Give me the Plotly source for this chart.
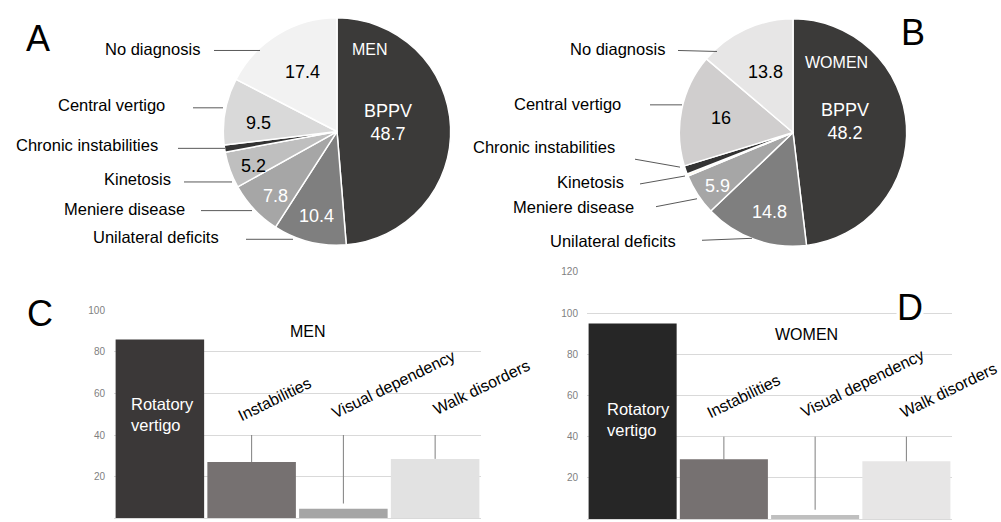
import plotly.graph_objects as go

W, H = 1001, 522
FONT = "Liberation Sans, Arial, sans-serif"

# ---------------- data ----------------
pie_labels = ["BPPV", "Unilateral deficits", "Meniere disease", "Kinetosis",
              "Chronic instabilities", "Central vertigo", "No diagnosis"]
men_pct = [48.7, 10.4, 7.8, 5.2, 1.0, 9.5, 17.4]
women_pct = [48.2, 14.8, 5.9, 0.3, 1.2, 16.0, 13.8]

symptoms = ["Rotatory vertigo", "Instabilities", "Visual dependency", "Walk disorders"]
men_sym = [86, 27, 4.5, 28.5]
women_sym = [95, 29, 2, 28]

men_ticks = [0, 20, 40, 60, 80, 100]
women_ticks = [0, 20, 40, 60, 80, 100, 120]

# ---------------- styles ----------------
men_colors = ["#3b3a39", "#7f7f7f", "#a6a6a6", "#bfbfbf", "#333333", "#d9d9d9", "#f2f2f2"]
women_colors = ["#3b3a39", "#7f7f7f", "#a6a6a6", "#fff2cc", "#333333", "#d0cece", "#e7e6e6"]
men_bar_colors = ["#3b3838", "#767171", "#a5a5a5", "#e2e2e2"]
women_bar_colors = ["#262626", "#767171", "#bfbfbf", "#e7e6e6"]


def px(x, y):
    return x / W, 1 - y / H


def pie_domain(cx, cy, r):
    return dict(x=[(cx - r) / W, (cx + r) / W], y=[1 - (cy + r) / H, 1 - (cy - r) / H])


fig = go.Figure()

pies = [
    dict(vals=men_pct, colors=men_colors, c=(337, 127), r=115),
    dict(vals=women_pct, colors=women_colors, c=(793, 128), r=115),
]
for p in pies:
    fig.add_trace(go.Pie(
        values=p["vals"], labels=pie_labels, sort=False, direction="clockwise",
        rotation=0, textinfo="none", hoverinfo="label+value", showlegend=False,
        marker=dict(colors=p["colors"], line=dict(color="white", width=1.5)),
        domain=pie_domain(p["c"][0], p["c"][1], p["r"]),
    ))

fig.add_trace(go.Bar(x=symptoms, y=men_sym, marker=dict(color=men_bar_colors, line=dict(width=0)),
                     xaxis="x", yaxis="y", showlegend=False))
fig.add_trace(go.Bar(x=symptoms, y=women_sym, marker=dict(color=women_bar_colors, line=dict(width=0)),
                     xaxis="x2", yaxis="y2", showlegend=False))

annotations = []
shapes = []


def add_text(text, x, y, size, color="black", xanchor="center", align="center", angle=0, **kw):
    ax, ay = px(x, y)
    annotations.append(dict(text=text, x=ax, y=ay, xref="paper", yref="paper", showarrow=False,
                            xanchor=xanchor, yanchor="middle", align=align, textangle=angle,
                            font=dict(family=FONT, size=size, color=color), **kw))


def add_line(x0, y0, x1, y1, color="#595959"):
    a0, b0 = px(x0, y0)
    a1, b1 = px(x1, y1)
    shapes.append(dict(type="line", xref="paper", yref="paper", x0=a0, y0=b0, x1=a1, y1=b1,
                       line=dict(color=color, width=1)))


def fmt(v):
    return f"{v:g}"


# ---- pie inner texts (index -> position, color) ----
men_inner = {0: (388, 118, "white"), 1: (316, 212, "white"), 2: (275, 192, "white"),
             3: (253, 162, "black"), 5: (258, 118, "black"), 6: (302, 67, "black")}
women_inner = {0: (845, 117, "white"), 1: (769, 208, "white"), 2: (717, 182, "white"),
               5: (721, 113, "black"), 6: (765, 67, "black")}
for vals, inner in [(men_pct, men_inner), (women_pct, women_inner)]:
    for i, (x, y, col) in inner.items():
        t = fmt(vals[i])
        if i == 0:
            t = pie_labels[0] + "<br>" + t
        add_text(t, x, y, 18, col)

add_text("MEN", 350, 44, 16, "white", xanchor="left")
add_text("WOMEN", 803, 57, 16, "white", xanchor="left")

# ---- pie outer labels with leader lines (index -> text right edge, y, line) ----
men_outer = {6: (202, 43, (214, 45, 260, 45)), 5: (167, 100, (193, 103, 223, 103)),
             4: (160, 141, (178, 144, 225, 144)), 3: (173, 175, (184, 178, 232, 178)),
             2: (187, 205, (201, 207, 252, 207)), 1: (221, 234, (246, 236, 293, 236))}
women_outer = {6: (667, 43, (678, 45, 717, 46)), 5: (623, 99, (650, 100, 682, 100)),
               4: (617, 143, (635, 155, 680, 163)), 3: (626, 178, (640, 180, 685, 172)),
               2: (636, 203, (656, 203, 697, 195)), 1: (678, 238, (702, 237, 752, 235))}
for outer in (men_outer, women_outer):
    for i, (xr, y, ln) in outer.items():
        add_text(pie_labels[i], xr, y, 16.5, "black", xanchor="right")
        add_line(*ln)

# ---- panel letters ----
add_text("A", 38, 33, 36)
add_text("B", 913, 27, 36)
add_text("C", 40, 311, 36)
add_text("D", 910, 305, 36, bgcolor="white", borderpad=0)

# ---- bar chart texts ----
add_text("MEN", 308, 329, 16)
add_text("WOMEN", 806, 332, 16)
add_text(symptoms[0].replace(" ", "<br>"), 129, 413, 16.5, "white", xanchor="left", align="left")
add_text(symptoms[0].replace(" ", "<br>"), 605, 418, 16.5, "white", xanchor="left", align="left")

men_rot = {1: (274, 398), 2: (393, 383), 3: (481, 386)}
women_rot = {1: (743, 395), 2: (862, 382), 3: (948, 389)}
for rot in (men_rot, women_rot):
    for i, (x, y) in rot.items():
        add_text(symptoms[i], x, y, 16, angle=-26)

# bar leader lines (data coords)
gaps = [0, 0, 2.5, 0]
for xr, yr, vals in [("x", "y", men_sym), ("x2", "y2", women_sym)]:
    for i in (1, 2, 3):
        shapes.append(dict(type="line", xref=xr, yref=yr, x0=symptoms[i], x1=symptoms[i],
                           y0=vals[i] + gaps[i], y1=40, line=dict(color="#7f7f7f", width=1)))

axis_common = dict(showgrid=True, gridcolor="#d9d9d9", gridwidth=1, zeroline=True,
                   zerolinecolor="#d9d9d9", zerolinewidth=1, showline=False, ticks="",
                   tickfont=dict(family=FONT, size=10, color="#7f7f7f"), ticklabelstandoff=8)
xaxis_common = dict(showticklabels=False, showgrid=False, zeroline=False, showline=False,
                    ticks="", type="category")

fig.update_layout(
    width=W, height=H, margin=dict(l=0, r=0, t=0, b=0),
    paper_bgcolor="white", plot_bgcolor="white",
    font=dict(family=FONT),
    bargap=0.035,
    xaxis=dict(domain=[114 / W, 481 / W], anchor="y", **xaxis_common),
    yaxis=dict(domain=[1 - 518 / H, 1 - 308 / H], range=[0, 100], tickvals=men_ticks,
               anchor="x", **axis_common),
    xaxis2=dict(domain=[587 / W, 952 / W], anchor="y2", **xaxis_common),
    yaxis2=dict(domain=[1 - 519 / H, 1 - 269 / H], range=[0, 120], tickvals=women_ticks,
                anchor="x2", **axis_common),
    annotations=annotations,
    shapes=shapes,
)

fig.write_html("out.html", config={"displayModeBar": False},
               post_script="document.body.style.margin='0px';"
                           "document.documentElement.style.overflow='hidden';"
                           "document.body.style.overflow='hidden';")
